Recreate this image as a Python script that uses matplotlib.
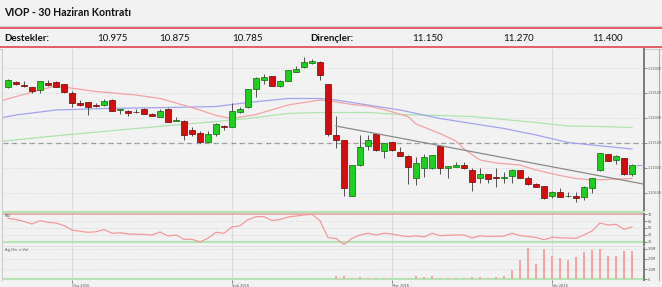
import matplotlib
matplotlib.use('agg')
import matplotlib.pyplot as plt

W, H = 662, 287
BG = '#f2f2f2'

title = 'VIOP - 30 Haziran Kontratı'
support_labels = ['10.975', '10.875', '10.785']
resist_labels = ['11.150', '11.270', '11.400']

opens = [1.1261, 1.1273, 1.1267, 1.1261, 1.1256, 1.1270, 1.1273, 1.1267, 1.1249, 1.1231,
         1.1231, 1.1226, 1.1226, 1.1237, 1.1216, 1.1215, 1.1213, 1.1219, 1.1209, 1.1203,
         1.1219, 1.1195, 1.1195, 1.1177, 1.1170, 1.1153, 1.1168, 1.1185, 1.1183, 1.1212,
         1.1221, 1.1258, 1.1277, 1.1283, 1.1265, 1.1275, 1.1293, 1.1301, 1.1311, 1.1313,
         1.1268, 1.1166, 1.1155, 1.1045, 1.1106, 1.1144, 1.1167, 1.1134, 1.1151, 1.1132,
         1.1125, 1.1079, 1.1099, 1.1099, 1.1144, 1.1099, 1.1103, 1.1105, 1.1097, 1.1079,
         1.1088, 1.1081, 1.1081, 1.1084, 1.1095, 1.1079, 1.1069, 1.1063, 1.1044, 1.1053,
         1.1044, 1.1044, 1.1043, 1.1061, 1.1096, 1.1128, 1.1116, 1.1120, 1.1088]
highs = [1.1278, 1.1274, 1.1275, 1.1262, 1.1275, 1.1277, 1.1275, 1.1268, 1.1255, 1.1236,
         1.1233, 1.1231, 1.1239, 1.1239, 1.1219, 1.1217, 1.1218, 1.1220, 1.1210, 1.1219,
         1.1220, 1.1202, 1.1196, 1.1182, 1.1174, 1.1174, 1.1191, 1.1187, 1.1231, 1.1221,
         1.1258, 1.1281, 1.1289, 1.1283, 1.1276, 1.1296, 1.1304, 1.1323, 1.1318, 1.1314,
         1.1269, 1.1205, 1.1156, 1.1107, 1.1167, 1.1166, 1.1169, 1.1151, 1.1152, 1.1143,
         1.1127, 1.1123, 1.1128, 1.1127, 1.1145, 1.1104, 1.1112, 1.1113, 1.1099, 1.1099,
         1.1089, 1.1099, 1.1092, 1.1098, 1.1096, 1.1085, 1.1070, 1.1065, 1.1054, 1.1061,
         1.1053, 1.1053, 1.1065, 1.1080, 1.1130, 1.1129, 1.1127, 1.1121, 1.1109]
lows = [1.1260, 1.1267, 1.1263, 1.1251, 1.1251, 1.1264, 1.1262, 1.1251, 1.1221, 1.1224,
        1.1207, 1.1221, 1.1225, 1.1214, 1.1209, 1.1205, 1.1210, 1.1208, 1.1204, 1.1202,
        1.1192, 1.1194, 1.1156, 1.1165, 1.1151, 1.1152, 1.1164, 1.1176, 1.1182, 1.1210,
        1.1220, 1.1241, 1.1269, 1.1264, 1.1261, 1.1274, 1.1292, 1.1300, 1.1309, 1.1276,
        1.1165, 1.1141, 1.1045, 1.1044, 1.1105, 1.1136, 1.1134, 1.1119, 1.1135, 1.1124,
        1.1069, 1.1067, 1.1083, 1.1098, 1.1088, 1.1079, 1.1102, 1.1098, 1.1055, 1.1071,
        1.1071, 1.1063, 1.1071, 1.1071, 1.1079, 1.1067, 1.1062, 1.1038, 1.1041, 1.1042,
        1.1043, 1.1033, 1.1036, 1.1051, 1.1095, 1.1114, 1.1109, 1.1087, 1.1084]
closes = [1.1276, 1.1269, 1.1265, 1.1255, 1.1273, 1.1266, 1.1263, 1.1253, 1.1230, 1.1227,
          1.1221, 1.1225, 1.1235, 1.1215, 1.1218, 1.1210, 1.1212, 1.1209, 1.1205, 1.1215,
          1.1193, 1.1197, 1.1167, 1.1169, 1.1152, 1.1167, 1.1189, 1.1183, 1.1214, 1.1219,
          1.1257, 1.1280, 1.1281, 1.1265, 1.1275, 1.1295, 1.1299, 1.1312, 1.1315, 1.1286,
          1.1169, 1.1156, 1.1060, 1.1106, 1.1141, 1.1157, 1.1136, 1.1150, 1.1137, 1.1125,
          1.1103, 1.1109, 1.1121, 1.1125, 1.1099, 1.1103, 1.1107, 1.1099, 1.1073, 1.1087,
          1.1078, 1.1080, 1.1083, 1.1097, 1.1080, 1.1068, 1.1063, 1.1039, 1.1053, 1.1043,
          1.1045, 1.1040, 1.1063, 1.1079, 1.1129, 1.1115, 1.1123, 1.1088, 1.1106]

# moving averages, read at a few bars
ma_fast_idx = [-1, 4, 6, 11, 16, 19, 21, 24, 26, 28, 31, 35, 39, 40, 43, 45, 47, 50, 51, 54,
               56, 57, 59, 61, 64, 66, 69, 71, 73, 78]
ma_fast = [1.1234, 1.1256, 1.1264, 1.1253, 1.1246, 1.1239, 1.1230, 1.1216, 1.1205, 1.1199,
           1.1207, 1.1226, 1.1236, 1.1235, 1.1227, 1.1224, 1.1217, 1.1203, 1.1188, 1.1169,
           1.1154, 1.1138, 1.1116, 1.1110, 1.1106, 1.1096, 1.1085, 1.1079, 1.1076, 1.1079]
ma_mid_idx = [-1, 1, 6, 12, 20, 26, 30, 35, 39, 41, 45, 49, 54, 58, 62, 66, 70, 73, 78]
ma_mid = [1.1200, 1.1206, 1.1216, 1.1219, 1.1221, 1.1223, 1.1231, 1.1239, 1.1239, 1.1236,
          1.1226, 1.1216, 1.1199, 1.1189, 1.1179, 1.1166, 1.1151, 1.1146, 1.1138]
ma_slow_idx = [-1, 7, 16, 26, 30, 35, 39, 45, 49, 54, 58, 62, 66, 70, 74, 78]
ma_slow = [1.1153, 1.1166, 1.1179, 1.1193, 1.1199, 1.1209, 1.1211, 1.1211, 1.1207, 1.1205,
           1.1203, 1.1197, 1.1191, 1.1184, 1.1183, 1.1181]

trend_idx = [41, 79.4]
trend_vals = [1.1184, 1.1068]
ref_level = 1.1150

price_ticks = [1.1050, 1.1100, 1.1150, 1.1200, 1.1250, 1.1300]

rsi = [64.2, 62.4, 59.5, 55.8, 60.7, 58.3, 57.3, 53.6, 47.1, 45.2,
       43.7, 44.5, 47.8, 42.3, 43.1, 41.2, 40.9, 40.5, 39.8, 44.2,
       38.3, 39.8, 33.5, 33.5, 29.6, 35.0, 43.7, 42.3, 51.5, 53.4,
       62.1, 66.5, 66.5, 60.9, 62.4, 66.1, 67.5, 69.0, 70.0, 60.7,
       35.8, 34.7, 26.2, 34.7, 39.8, 42.3, 39.8, 42.3, 41.2, 39.0,
       37.3, 38.6, 36.9, 42.3, 38.8, 39.3, 39.8, 39.8, 35.4, 38.6,
       37.6, 37.9, 38.3, 42.3, 38.8, 37.6, 36.1, 32.9, 36.4, 35.7,
       35.4, 35.0, 39.8, 45.6, 57.3, 54.4, 55.4, 48.1, 51.5]
rsi_ticks = [30, 40, 50, 60, 70]

volume = [0, 0, 0, 0, 0, 0, 0, 0, 0, 0,
          0, 0, 0, 0, 0, 0, 0, 0, 0, 0,
          0, 0, 0, 0, 0.03, 0, 0, 0, 0, 0,
          0.03, 0.03, 0.03, 0.03, 0.03, 0.03, 0.03, 0.03, 0.03, 0.03,
          0.03, 0.28, 0.28, 0.15, 0.18, 0.08, 0.11, 0.08, 0.05, 0.05,
          0.11, 0.34, 0.21, 0.31, 0.08, 0.08, 0.08, 0.11, 0.18, 0.18,
          0.15, 0.18, 0.34, 0.90, 1.91, 3.01, 1.51, 2.98, 2.23, 2.07,
          1.91, 2.20, 2.65, 2.82, 2.91, 2.26, 2.26, 2.78, 2.72]
vol_ticks = [0, 1, 2, 3]
vol_labels = ['0', '1,0M', '2,0M', '3,0M']

month_idx = [8, 28, 48, 68]
month_labels = ['Oca 2016', 'Şub 2016', 'Mar 2016', 'Nis 2016']

idx = list(range(len(opens)))

fig = plt.figure(figsize=(W / 100, H / 100), dpi=100, facecolor=BG)


def panel(x0, y0, x1, y1):
    a = fig.add_axes([x0 / W, 1 - y1 / H, (x1 - x0) / W, (y1 - y0) / H])
    a.set_facecolor(BG)
    for s in ['left', 'top', 'bottom']:
        a.spines[s].set_visible(False)
    a.spines['right'].set_color('#7a7a7a')
    a.spines['right'].set_linewidth(1.4)
    a.yaxis.tick_right()
    a.tick_params(axis='y', length=2, width=0.6, color='#777777',
                  labelsize=2.4, labelcolor='#555555', pad=0.6)
    a.set_xlim(-0.625, 79.5)
    for m in month_idx:
        a.axvline(m, color='#dadada', lw=0.8, zorder=0)
    return a


# header drawn in pixel coords
bg = fig.add_axes([0, 0, 1, 1])
bg.set_xlim(0, W)
bg.set_ylim(H, 0)
bg.axis('off')
hfont = ['Lato', 'DejaVu Sans']
bg.text(4, 12, title, fontsize=7.6, fontweight='bold', va='center', family=hfont, color='#111111')
bg.plot([0, W], [26, 26], color='#d2d2d2', lw=0.8)
bg.plot([0, W], [28.3, 28.3], color='#e2434f', lw=1.2)
bg.plot([0, W], [46.7, 46.7], color='#e2434f', lw=1.2)
bg.plot([0, W], [49, 49], color='#cfcfcf', lw=0.8)
bg.text(4, 38.5, 'Destekler:', fontsize=7, fontweight='bold', va='center', family=hfont, color='#111111')
bg.text(310, 38.5, 'Dirençler:', fontsize=7, fontweight='bold', va='center', family=hfont, color='#111111')
for x, s in zip([96.7, 159, 232], support_labels):
    bg.text(x, 38.5, s, fontsize=7, va='center', family=hfont, color='#111111')
for x, s in zip([411.7, 503, 591.7], resist_labels):
    bg.text(x, 38.5, s, fontsize=7, va='center', family=hfont, color='#111111')
bg.plot([2, 2], [49, 280], color='#cccccc', lw=0.8)
bg.plot([659, 659], [49, 280], color='#b0b0b0', lw=0.8)

# main price panel
ax = panel(3, 49, 644, 210)
ax.set_ylim(1.1016, 1.1338)
ax.set_yticks(price_ticks)
ax.set_yticklabels(['%.5f' % v for v in price_ticks])
ax.set_xticks([])
ax.grid(axis='y', linestyle=(0, (1, 2)), color='#cdcdcd', lw=0.6)
ax.axhline(ref_level, color='#8c8c8c', lw=0.9, ls=(0, (4, 3)), zorder=1)

ax.plot(ma_slow_idx, ma_slow, color='#aee3ae', lw=0.9, zorder=2)
ax.plot(ma_mid_idx, ma_mid, color='#a4a4ee', lw=0.9, zorder=2)
ax.plot(ma_fast_idx, ma_fast, color='#f2a3a3', lw=0.9, zorder=2)

up = [c >= o for o, c in zip(opens, closes)]
bottoms = [min(o, c) for o, c in zip(opens, closes)]
heights = [max(abs(c - o), 0.00008) for o, c in zip(opens, closes)]
face = ['#1fcf1f' if u else '#d40d0d' for u in up]
edge = ['#0b6b0b' if u else '#6e0505' for u in up]
ax.vlines(idx, lows, highs, color='#505050', lw=0.7, zorder=3)
ax.bar(idx, heights, bottom=bottoms, width=0.72, color=face, edgecolor=edge, lw=0.5, zorder=4)

ax.plot(trend_idx, trend_vals, color='#8a8a8a', lw=0.9, zorder=5)
ax.plot([78.6, 79.5], [closes[-1], closes[-1]], color='#a8a8e8', lw=0.8, zorder=5)

# RSI panel
ar = panel(3, 211.7, 644, 244.5)
ar.set_ylim(25.9, 73.8)
ar.set_yticks(rsi_ticks)
ar.set_yticklabels([str(v) for v in rsi_ticks])
ar.set_xticks([])
ar.spines['top'].set_visible(True)
ar.spines['top'].set_color('#b5e3b5')
ar.spines['top'].set_linewidth(1.5)
for v in rsi_ticks[1:-1]:
    ar.axhline(v, color='#cdcdcd', lw=0.6, ls=(0, (1, 2)), zorder=0)
ar.axhline(70, color='#e8a6a6', lw=1.2, zorder=1)
ar.axhline(30, color='#b5e3b5', lw=1.5, zorder=1)
ar.plot(idx, rsi, color='#f29a9a', lw=0.9, zorder=3)
ar.text(0.003, 0.93, 'RSI', transform=ar.transAxes, fontsize=2.6, color='#555555', va='top')

# volume panel
av = panel(3, 245.5, 644, 280)
av.set_ylim(-0.07, 3.30)
av.set_yticks(vol_ticks)
av.set_yticklabels(vol_labels)
av.spines['top'].set_visible(True)
av.spines['top'].set_color('#dddddd')
av.spines['top'].set_linewidth(0.6)
for v in vol_ticks[1:]:
    av.axhline(v, color='#cdcdcd', lw=0.6, ls=(0, (1, 2)), zorder=0)
av.axhline(0, color='#b5e3b5', lw=1.5, zorder=1)
av.bar(idx, volume, width=0.28, color='#f4a5a5', zorder=3)
av.text(0.003, 0.93, 'Ağ.Ort. x Vol', transform=av.transAxes, fontsize=2.6, color='#555555', va='top')
av.set_xticks(month_idx)
av.set_xticklabels(month_labels, ha='left')
av.tick_params(axis='x', length=2, width=0.6, color='#777777', labelsize=2.6, labelcolor='#555555', pad=1)

fig.savefig('out.png', dpi=100, facecolor=BG)
